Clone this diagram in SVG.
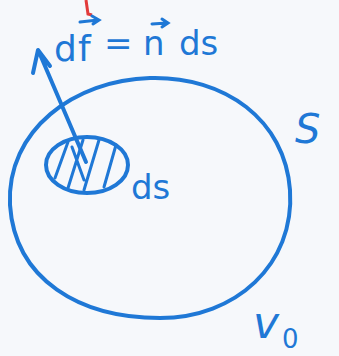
<svg xmlns="http://www.w3.org/2000/svg" width="339" height="356" viewBox="0 0 339 356">
<style>
.ink{fill:none;stroke:#1f78d6;stroke-width:4;stroke-linecap:round;stroke-linejoin:round}
.thin{fill:none;stroke:#1f78d6;stroke-width:3;stroke-linecap:round}
.t{fill:#1f78d6;font-family:"DejaVu Sans",sans-serif}
</style>
<rect width="339" height="356" fill="#f6f8fb"/>
<path d="M86 0 L88 14 L92 15" fill="none" stroke="#e23b3b" stroke-width="3"/>
<g id="volume">
<path class="ink" d="M150 78 C225 76 285 120 290 190 C295 265 235 318 160 318 C80 318 15 280 10 205 C6 130 75 80 150 78 Z"/>
</g>
<g id="patch">
<ellipse class="ink" cx="87" cy="165" rx="41" ry="28"/>
<path class="thin" d="M55 178 L68 142 M68 188 L83 140 M84 190 L99 140 M104 187 L116 145 M72 147 L84 180"/>
</g>
<g id="connectors">
<path class="ink" d="M86 162 L39 52 M33 73 L38 50 L50 66"/>
</g>
<text class="t" x="54" y="61" font-size="36">d</text>
<text class="t" x="78" y="61" font-size="36">f</text>
<path class="thin" d="M80 22 L98 20 M92 16 L99 20 L93 24"/>
<text class="t" x="104" y="55" font-size="34">=</text>
<text class="t" x="143" y="55" font-size="34">n</text>
<path class="thin" d="M152 24 L167 23 M162 19 L168 23 L162 27"/>
<text class="t" x="179" y="55" font-size="34">ds</text>
<text class="t" x="131" y="199" font-size="34">ds</text>
<text class="t" x="295" y="143" font-size="40" font-style="italic">S</text>
<text class="t" x="253" y="338" font-size="44" font-style="italic">v</text>
<text class="t" x="282" y="348" font-size="26">0</text>
</svg>
